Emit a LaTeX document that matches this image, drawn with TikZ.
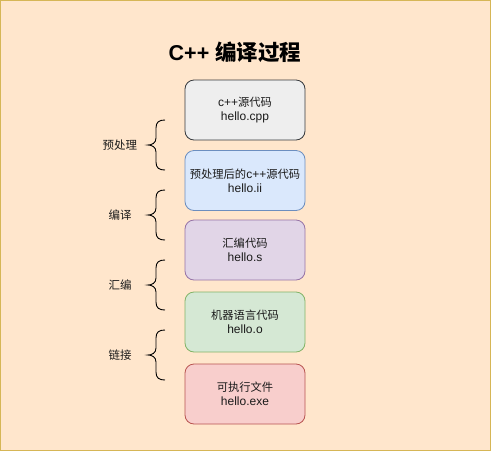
\documentclass[tikz,border=0pt]{standalone}
\usepackage{fontspec}
\setmainfont{Liberation Sans}
\newfontfamily\cjk{Noto Sans CJK SC}
\newfontfamily\cjks[Scale=0.94]{Noto Sans CJK SC}
\definecolor{bgfill}{HTML}{FFE6CC}
\definecolor{bgline}{HTML}{D6B656}
\definecolor{grayfill}{HTML}{EEEEEE}
\definecolor{grayline}{HTML}{36393D}
\definecolor{bluefill}{HTML}{DAE8FC}
\definecolor{blueline}{HTML}{6C8EBF}
\definecolor{purplefill}{HTML}{E1D5E7}
\definecolor{purpleline}{HTML}{9673A6}
\definecolor{greenfill}{HTML}{D5E8D4}
\definecolor{greenline}{HTML}{82B366}
\definecolor{redfill}{HTML}{F8CECC}
\definecolor{redline}{HTML}{B85450}
\definecolor{txt}{HTML}{1A1A1A}
\newcommand{\mybrace}[3]{%
  \draw[bracestyle] ({#1+9},#2) .. controls ({#1+3},#2) and (#1,{#2+2}) .. (#1,{#2+8})
    -- (#1,{(#2+#3)/2-7}) .. controls (#1,{(#2+#3)/2-2}) and ({#1-4},{(#2+#3)/2}) .. ({#1-8},{(#2+#3)/2})
    .. controls ({#1-4},{(#2+#3)/2}) and (#1,{(#2+#3)/2+2}) .. (#1,{(#2+#3)/2+7})
    -- (#1,{#3-8}) .. controls (#1,{#3-2}) and ({#1+3},#3) .. ({#1+9},#3);}
\tikzset{
  stepbox/.style={draw, rounded corners=9pt, minimum width=120pt, minimum height=60pt,
    align=center, text=txt, font=\fontsize{12}{14}\selectfont, line width=0.8pt, inner sep=0pt},
  bracestyle/.style={draw=black, line width=0.9pt},
  lbl/.style={text=txt, font=\cjk\fontsize{11.5}{14}\selectfont}
}
\begin{document}
\begin{tikzpicture}[x=1pt, y=-1pt]
\useasboundingbox (0,0) rectangle (491,451);
\draw[fill=bgfill, draw=bgline, line width=1.2pt] (0.6,0.6) rectangle (490.4,450.4);
\node[font=\bfseries\fontsize{21.5}{24}\selectfont, text=black] (title) at (235,52) {C++ {\cjk\bfseries 编译过程}};
\node[stepbox, fill=grayfill, draw=grayline] (b1) at (245,110) {c++{\cjks 源代码}\\hello.cpp};
\node[stepbox, fill=bluefill, draw=blueline] (b2) at (245,180.5) {{\cjks 预处理后的}c++{\cjks 源代码}\\hello.ii};
\node[stepbox, fill=purplefill, draw=purpleline] (b3) at (245,250) {{\cjks 汇编代码}\\hello.s};
\node[stepbox, fill=greenfill, draw=greenline] (b4) at (245,322) {{\cjks 机器语言代码}\\hello.o};
\node[stepbox, fill=redfill, draw=redline] (b5) at (245,394) {{\cjks 可执行文件}\\hello.exe};
\mybrace{156}{120}{170}
\mybrace{156}{190}{240}
\mybrace{156}{260}{310}
\mybrace{156}{330}{380}
\node[lbl] (l1) at (120,145) {预处理};
\node[lbl] (l2) at (120,215) {编译};
\node[lbl] (l3) at (120,285) {汇编};
\node[lbl] (l4) at (120,355) {链接};
\end{tikzpicture}
\end{document}
